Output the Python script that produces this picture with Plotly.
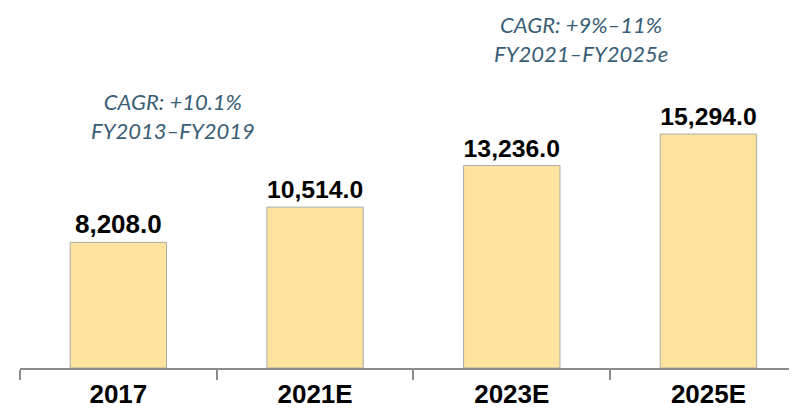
import plotly.graph_objects as go

# values
years = ["2017", "2021E", "2023E", "2025E"]
values = [8208.0, 10514.0, 13236.0, 15294.0]
cagr_notes = ["CAGR: +10.1%<br>FY2013–FY2019", "CAGR: +9%–11%<br>FY2021–FY2025e"]
note_x = [0.28, 2.35]
note_y = [16440, 21480]

fig = go.Figure(
    go.Bar(
        x=years,
        y=values,
        width=0.49,
        marker=dict(color="#FDE49E", line=dict(color="#ABABAB", width=1)),
        texttemplate="%{y:,.1f}",
        textposition="outside",
        textfont=dict(family="Liberation Sans, Arial", size=26, color="#000000", weight="bold"),
        cliponaxis=False,
        hoverinfo="skip",
    )
)

for txt, nx, ny in zip(cagr_notes, note_x, note_y):
    fig.add_annotation(
        x=nx, y=ny, xref="x", yref="y",
        text=txt, showarrow=False, borderpad=0,
        font=dict(family="Lato", size=22, color="#3A5D76", style="italic"),
        align="center",
    )

# page body has an 8px margin, so the figure is a little smaller than the window
fig.update_layout(
    width=789, height=405,
    margin=dict(l=12, r=0, t=0, b=45),
    paper_bgcolor="white", plot_bgcolor="white",
    showlegend=False,
    xaxis=dict(
        type="category",
        range=[-0.5, 3.45],
        showline=True, linecolor="#8C8C8C", linewidth=2,
        ticks="outside", tickson="boundaries", ticklen=10, tickwidth=2, tickcolor="#8C8C8C",
        ticklabelstandoff=2,
        tickfont=dict(family="Liberation Sans, Arial", size=26, color="#000000", weight="bold"),
        showgrid=False, zeroline=False,
    ),
    yaxis=dict(range=[0, 23530], visible=False, showgrid=False, zeroline=False),
)

fig.write_html("out.html")
